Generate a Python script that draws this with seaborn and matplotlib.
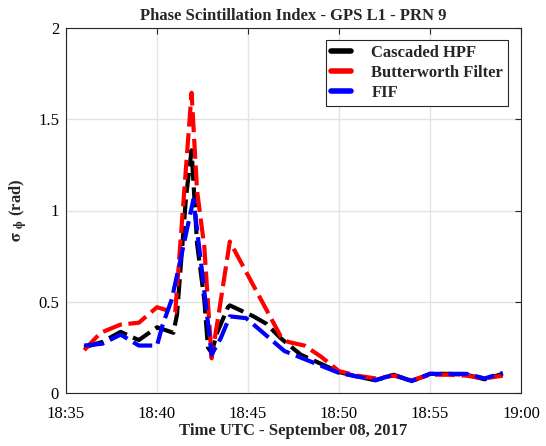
import matplotlib
matplotlib.use("Agg")
import matplotlib.pyplot as plt
import seaborn as sns
import pandas as pd

# time in minutes after 18:00
t_hpf = [36.0, 37.0, 38.0, 39.0, 40.0, 40.9, 41.1, 41.6, 41.9, 42.2, 42.6, 42.8, 43.0, 43.3, 43.9, 44.0,
         45.3, 46.0, 46.8, 47.9, 50.0, 51.0, 52.0, 53.0, 54.0, 55.0, 56.0, 57.0, 58.0, 59.0]
v_hpf = [0.25, 0.28, 0.335, 0.29, 0.36, 0.33, 0.43, 1.08, 1.33, 0.82, 0.51, 0.25, 0.22, 0.33, 0.47, 0.48,
         0.42, 0.38, 0.30, 0.21, 0.115, 0.09, 0.07, 0.10, 0.065, 0.105, 0.105, 0.10, 0.075, 0.105]

t_bw = [36.0, 36.9, 38.0, 39.0, 40.0, 41.0, 41.9, 42.2, 42.6, 43.0, 43.4, 44.0, 46.8, 47.2, 48.1, 49.0,
        50.0, 51.0, 52.0, 53.0, 54.0, 55.0, 56.0, 57.0, 58.0, 59.0]
v_bw = [0.235, 0.33, 0.375, 0.385, 0.47, 0.44, 1.645, 1.11, 0.80, 0.19, 0.44, 0.83, 0.31, 0.28, 0.26, 0.20,
        0.12, 0.095, 0.08, 0.095, 0.07, 0.10, 0.10, 0.095, 0.08, 0.095]

t_fif = [36.0, 37.0, 38.0, 39.0, 40.0, 40.3, 40.8, 41.2, 42.0, 42.4, 42.7, 43.0, 43.5, 44.0, 44.9,
         47.0, 50.0, 51.0, 52.0, 53.0, 54.0, 55.0, 56.0, 57.0, 58.0, 59.0]
v_fif = [0.26, 0.27, 0.32, 0.26, 0.26, 0.37, 0.51, 0.69, 1.06, 0.73, 0.47, 0.21, 0.30, 0.42, 0.41,
         0.23, 0.11, 0.09, 0.07, 0.10, 0.065, 0.105, 0.105, 0.105, 0.08, 0.11]

series_names = ["Cascaded HPF", "Butterworth Filter", "FIF"]
series_colors = ["#000000", "#ff0000", "#0000ff"]

x_ticks = [35, 40, 45, 50, 55, 60]
x_tick_labels = ["18:35", "18:40", "18:45", "18:50", "18:55", "19:00"]
y_ticks = [0, 0.5, 1, 1.5, 2]
y_tick_labels = ["0", "0.5", "1", "1.5", "2"]

sns.set_theme(style="whitegrid")
plt.rcParams["font.family"] = ["Liberation Serif", "DejaVu Serif"]
plt.rcParams["mathtext.fontset"] = "stix"

fig = plt.figure(figsize=(5.46, 4.46), dpi=100)
ax = fig.add_axes([66 / 546, 53 / 446, 455 / 546, 365 / 446])

for t, v, name, col in zip([t_hpf, t_bw, t_fif], [v_hpf, v_bw, v_fif], series_names, series_colors):
    df = pd.DataFrame({"t": t, "v": v})
    sns.lineplot(data=df, x="t", y="v", ax=ax, color=col, linewidth=3.0, sort=False,
                 estimator=None, label=name, linestyle=(0, (4.8, 1.6)), solid_joinstyle="miter",
                 dash_capstyle="butt")

ax.set_xlim(35, 60)
ax.set_ylim(0, 2)
ax.set_xticks(x_ticks)
ax.set_xticklabels(x_tick_labels)
ax.set_yticks(y_ticks)
ax.set_yticklabels(y_tick_labels)
ax.grid(True, color="#e3e3e3", linewidth=1.0)
ax.set_facecolor("white")
for s in ax.spines.values():
    s.set_color("#262626")
    s.set_linewidth(0.8)
ax.tick_params(direction="in", length=4, width=0.8, colors="#262626", labelsize=12,
               top=True, right=True, labelcolor="black")
ax.tick_params(axis="x", pad=9)
ax.tick_params(axis="y", pad=5)

ax.set_title("Phase Scintillation Index - GPS L1 - PRN 9", fontsize=12, fontweight="bold", pad=6)
ax.set_xlabel("Time UTC - September 08, 2017", fontsize=12, fontweight="bold", labelpad=1)
ax.set_ylabel(r"$\mathbf{\sigma}$ $_{\mathbf{\phi}}$ (rad)", fontsize=12, fontweight="bold", labelpad=6)

leg = ax.legend(loc="upper right", fontsize=12, frameon=True, fancybox=False, framealpha=1,
                edgecolor="#262626", borderpad=0.3, handlelength=1.2, handletextpad=1.2,
                labelspacing=0.25, bbox_to_anchor=(0.99, 0.99))
leg.get_frame().set_linewidth(0.8)
for txt in leg.get_texts():
    txt.set_fontweight("bold")
for h in leg.get_lines():
    h.set_linestyle("-")
    h.set_linewidth(4)

fig.savefig("out.png", dpi=100)
